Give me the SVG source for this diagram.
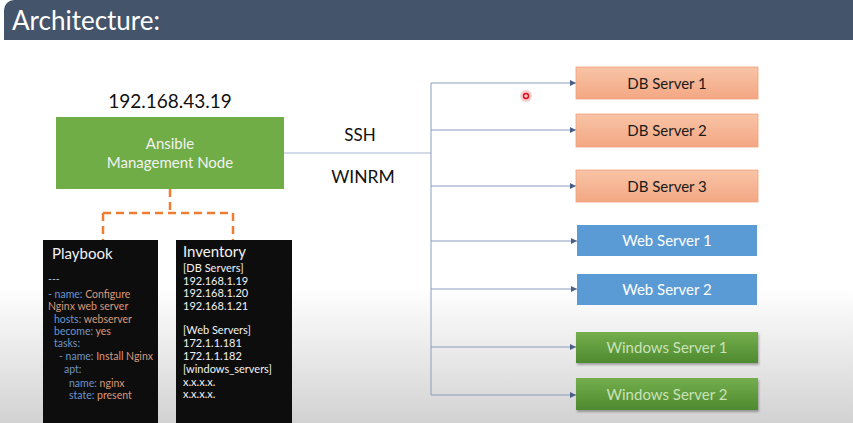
<svg xmlns="http://www.w3.org/2000/svg" width="853" height="423" viewBox="0 0 853 423">
<defs>
<linearGradient id="bg" x1="0" y1="0" x2="0" y2="1">
<stop offset="0" stop-color="#ffffff"/>
<stop offset="0.68" stop-color="#ffffff"/>
<stop offset="1" stop-color="#d2d2d2"/>
</linearGradient>
<linearGradient id="db" x1="0" y1="0" x2="0" y2="1">
<stop offset="0" stop-color="#f8c4a6"/>
<stop offset="1" stop-color="#f3a783"/>
</linearGradient>
<linearGradient id="win" x1="0" y1="0" x2="0" y2="1">
<stop offset="0" stop-color="#74ae4d"/>
<stop offset="1" stop-color="#4e8a2f"/>
</linearGradient>
<marker id="arr" viewBox="0 0 6 6" refX="6" refY="3" markerWidth="6" markerHeight="6" orient="auto" markerUnits="userSpaceOnUse">
<path d="M0,0 L6,3 L0,6 z" fill="#4a5f86"/>
</marker>
<filter id="sh" x="-5%" y="-10%" width="110%" height="140%">
<feDropShadow dx="1" dy="2" stdDeviation="1.2" flood-color="#000" flood-opacity="0.3"/>
</filter>
</defs>
<style>
text{font-family:Lato,"Open Sans","Liberation Sans",sans-serif}
.lbl{font-size:15px;text-anchor:middle}
.k{fill:#6e94c8}
.v{fill:#d9997a}
.code{font-size:10.5px}
.inv{font-size:11px;fill:#f2f2f2}
.bus{stroke:#8a9dbf;stroke-width:1;fill:none}
</style>
<rect width="853" height="423" fill="url(#bg)"/>
<g id="header">
<path d="M14,0 H853 V40 H4 V10 A10,10 0 0 1 14,0 Z" fill="#44546a"/>
<text x="12" y="30" font-size="26" fill="#ffffff">Architecture:</text>
</g>
<g id="connectors">
<path d="M284,153 H431" stroke="#c5d0e0" stroke-width="1.5" fill="none"/>
<path class="bus" d="M431,83 V395"/>
<path class="bus" d="M431,83 H576" marker-end="url(#arr)"/>
<path class="bus" d="M431,130 H576" marker-end="url(#arr)" stroke="#6c7fa3"/>
<path class="bus" d="M431,186 H576" marker-end="url(#arr)" stroke="#d2dbe8"/>
<path class="bus" d="M431,241 H577" marker-end="url(#arr)" stroke="#b3c1d8"/>
<path class="bus" d="M431,289 H577" marker-end="url(#arr)" stroke="#6c7fa3"/>
<path class="bus" d="M431,347 H576" marker-end="url(#arr)"/>
<path class="bus" d="M431,395 H576" marker-end="url(#arr)" stroke="#6c7fa3"/>
<path d="M170,189 V213 M103,213 H233 M103,213 V240 M233,213 V240" stroke="#ed7d31" stroke-width="2.5" stroke-dasharray="8,5" fill="none"/>
<text x="360" y="141" font-size="17" text-anchor="middle" fill="#111">SSH</text>
<text x="363" y="183" font-size="17.5" text-anchor="middle" fill="#111">WINRM</text>
</g>
<g id="mgmt">
<text x="170" y="108" font-size="19" text-anchor="middle" fill="#111">192.168.43.19</text>
<rect x="56" y="117" width="228" height="72" fill="#70ad47"/>
<text class="lbl" x="170" y="149" fill="#f2f2f2">Ansible</text>
<text class="lbl" x="170" y="168" fill="#f2f2f2">Management Node</text>
</g>
<g id="playbook">
<rect x="43" y="240" width="115" height="183" fill="#0d0d0d"/>
<text x="52" y="259" font-size="15" fill="#f2f2f2">Playbook</text>
<text class="code" x="48" y="283" fill="#bfbfbf">---</text>
<text class="code" x="48" y="298"><tspan class="k">- name: </tspan><tspan class="v">Configure</tspan></text>
<text class="code v" x="48" y="310">Nginx web server</text>
<text class="code" x="54" y="323"><tspan class="k">hosts: </tspan><tspan class="v">webserver</tspan></text>
<text class="code" x="54" y="335"><tspan class="k">become: </tspan><tspan class="v">yes</tspan></text>
<text class="code k" x="54" y="347">tasks:</text>
<text class="code" x="59" y="360"><tspan class="k">- name: </tspan><tspan class="v">Install Nginx</tspan></text>
<text class="code k" x="64" y="373">apt:</text>
<text class="code" x="69" y="387"><tspan class="k">name: </tspan><tspan class="v">nginx</tspan></text>
<text class="code" x="69" y="399"><tspan class="k">state: </tspan><tspan class="v">present</tspan></text>
</g>
<g id="inventory">
<rect x="176" y="240" width="116" height="183" fill="#0d0d0d"/>
<text x="183" y="257" font-size="15" fill="#f2f2f2">Inventory</text>
<text class="inv" x="183" y="272">[DB Servers]</text>
<text class="inv" x="183" y="285">192.168.1.19</text>
<text class="inv" x="183" y="297">192.168.1.20</text>
<text class="inv" x="183" y="310">192.168.1.21</text>
<text class="inv" x="183" y="334">[Web Servers]</text>
<text class="inv" x="183" y="347">172.1.1.181</text>
<text class="inv" x="183" y="360">172.1.1.182</text>
<text class="inv" x="183" y="373">[windows_servers]</text>
<text class="inv" x="183" y="386">x.x.x.x.</text>
<text class="inv" x="183" y="398">x.x.x.x.</text>
</g>
<g id="db1">
<rect x="576" y="67" width="182" height="32" fill="url(#db)" stroke="#f0a07c" stroke-width="0.8"/>
<text class="lbl" x="667" y="89" fill="#1a1a1a">DB Server 1</text>
</g>
<g id="db2">
<rect x="576" y="114" width="182" height="33" fill="url(#db)" stroke="#f0a07c" stroke-width="0.8"/>
<text class="lbl" x="667" y="136" fill="#1a1a1a">DB Server 2</text>
</g>
<g id="db3">
<rect x="576" y="170" width="182" height="32" fill="url(#db)" stroke="#f0a07c" stroke-width="0.8"/>
<text class="lbl" x="667" y="192" fill="#1a1a1a">DB Server 3</text>
</g>
<g id="web1">
<rect x="577" y="225" width="180" height="31" fill="#5b9bd5"/>
<text class="lbl" x="667" y="246" fill="#ffffff">Web Server 1</text>
</g>
<g id="web2">
<rect x="577" y="274" width="180" height="31" fill="#5b9bd5"/>
<text class="lbl" x="667" y="295" fill="#ffffff">Web Server 2</text>
</g>
<g id="win1">
<rect x="576" y="332" width="182" height="31" fill="url(#win)" filter="url(#sh)"/>
<text class="lbl" x="667" y="353" fill="#c9e2b8">Windows Server 1</text>
</g>
<g id="win2">
<rect x="576" y="378" width="182" height="32" fill="url(#win)" filter="url(#sh)"/>
<text class="lbl" x="667" y="400" fill="#c9e2b8">Windows Server 2</text>
</g>
<g id="pointer">
<circle cx="526" cy="96" r="6" fill="#f4a0a0" opacity="0.5"/>
<circle cx="526" cy="96" r="2.5" fill="none" stroke="#e0101a" stroke-width="1.5"/>
</g>
</svg>
